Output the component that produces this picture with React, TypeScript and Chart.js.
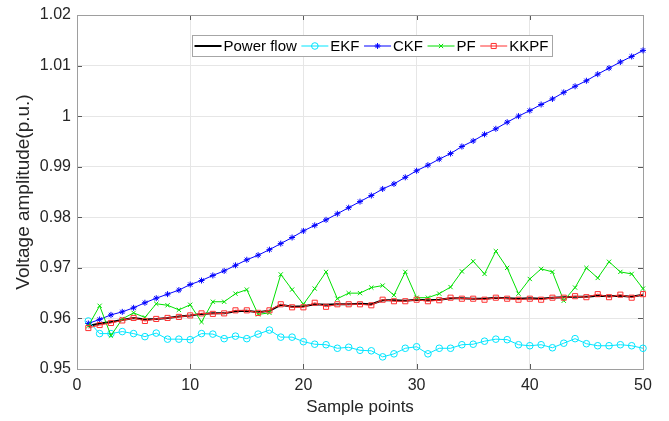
import { useEffect, useRef } from "react";
import { Chart, registerables } from "chart.js";
import { drawPoint } from "chart.js/helpers";

Chart.register(...registerables);

const samplePoints = [
  1, 2, 3, 4, 5, 6, 7, 8, 9, 10, 11, 12, 13, 14, 15, 16, 17, 18, 19, 20, 21, 22, 23, 24, 25,
  26, 27, 28, 29, 30, 31, 32, 33, 34, 35, 36, 37, 38, 39, 40, 41, 42, 43, 44, 45, 46, 47, 48, 49, 50,
];

const powerFlow = [
  0.9585, 0.959, 0.9593, 0.9597, 0.9601, 0.9598, 0.9599, 0.9601, 0.9604, 0.9606,
  0.9609, 0.961, 0.961, 0.9614, 0.9615, 0.9612, 0.9615, 0.9627, 0.9623, 0.9624,
  0.9628, 0.9627, 0.9628, 0.9628, 0.9629, 0.9628, 0.9636, 0.9636, 0.9635, 0.9637,
  0.9636, 0.9637, 0.964, 0.964, 0.9639, 0.9639, 0.9641, 0.964, 0.9639, 0.964,
  0.9639, 0.9641, 0.9642, 0.9643, 0.9643, 0.9645, 0.9644, 0.9645, 0.9643, 0.9647,
];

const ekf = [
  0.9595, 0.957, 0.957, 0.9574, 0.957, 0.9564, 0.9571, 0.9559, 0.9559, 0.9558,
  0.957, 0.9569, 0.956, 0.9565, 0.956, 0.9569, 0.9577, 0.9563, 0.9563, 0.9554,
  0.9549, 0.9548, 0.9541, 0.9543, 0.9537, 0.9536, 0.9524, 0.953, 0.9541, 0.9544,
  0.953, 0.9541, 0.9541, 0.9548, 0.9549, 0.9555, 0.9559, 0.9558, 0.9548, 0.9546,
  0.9548, 0.9542, 0.9551, 0.956, 0.955, 0.9546, 0.9546, 0.9548, 0.9546, 0.9541,
];

const ckf = [
  0.959, 0.9598, 0.9607, 0.9613, 0.9621, 0.9631, 0.964, 0.9648, 0.9656, 0.9667,
  0.9675, 0.9685, 0.9694, 0.9705, 0.9716, 0.9725, 0.9736, 0.9748, 0.976, 0.9773,
  0.9784, 0.9795, 0.9807, 0.9819, 0.9831, 0.9843, 0.9856, 0.9866, 0.9879, 0.9892,
  0.9903, 0.9915, 0.9926, 0.994, 0.9951, 0.9964, 0.9975, 0.9988, 1.0, 1.0011,
  1.0023, 1.0034, 1.0047, 1.0059, 1.007, 1.0083, 1.0095, 1.0107, 1.0118, 1.013,
];

const pf = [
  0.9585, 0.9625, 0.9566, 0.9599, 0.9611, 0.9602, 0.9629, 0.9626, 0.9617, 0.9627,
  0.9593, 0.9633, 0.9633, 0.9649, 0.9657, 0.9608, 0.9611, 0.9687, 0.9657, 0.9628,
  0.9659, 0.9692, 0.9639, 0.965, 0.965, 0.9661, 0.9665, 0.9646, 0.9692, 0.9641,
  0.9641, 0.9649, 0.9662, 0.9693, 0.9713, 0.9688, 0.9733, 0.97, 0.9649, 0.9678,
  0.9698, 0.9692, 0.9635, 0.9661, 0.97, 0.968, 0.9712, 0.9692, 0.9688, 0.9659,
];

const kkpf = [
  0.9581, 0.9587, 0.9591, 0.9596, 0.9601, 0.9595, 0.9599, 0.9601, 0.9603, 0.9606,
  0.961, 0.9609, 0.961, 0.9616, 0.9616, 0.9611, 0.9616, 0.9628, 0.9622, 0.9622,
  0.9631, 0.9623, 0.9628, 0.9628, 0.9628, 0.9626, 0.9637, 0.9634, 0.9634, 0.9637,
  0.9634, 0.9636, 0.9641, 0.9639, 0.9639, 0.9637, 0.9641, 0.9639, 0.9637, 0.9639,
  0.9637, 0.9641, 0.9641, 0.9644, 0.9642, 0.9648, 0.9642, 0.9647, 0.9641, 0.9648,
];

const xTicks = [0, 10, 20, 30, 40, 50];
const yTicks = [0.95, 0.96, 0.97, 0.98, 0.99, 1.0, 1.01, 1.02];

const seriesNames = ["Power flow", "EKF", "CKF", "PF", "KKPF"];
const xTitle = "Sample points";
const yTitle = "Voltage amplitude(p.u.)";

const FONT = "'Liberation Sans', Arial, Helvetica, sans-serif";
const TEXT = "#262626";

const toPoints = (ys: number[]) => ys.map((y, i) => ({ x: samplePoints[i], y }));

const boxPlugin = {
  id: "matlabBox",
  beforeDatasetsDraw(chart: any) {
    const { ctx, chartArea } = chart;
    const { left, right, top, bottom } = chartArea;
    const xs = chart.scales.x;
    const ys = chart.scales.y;
    ctx.save();
    ctx.lineWidth = 1;
    ctx.strokeStyle = "#5a5a5a";
    const tl = 5;
    ctx.beginPath();
    xTicks.forEach((v) => {
      const px = Math.round(xs.getPixelForValue(v)) + 0.5;
      ctx.moveTo(px, bottom);
      ctx.lineTo(px, bottom - tl);
      ctx.moveTo(px, top);
      ctx.lineTo(px, top + tl);
    });
    yTicks.forEach((v) => {
      const py = Math.round(ys.getPixelForValue(v)) + 0.5;
      ctx.moveTo(left, py);
      ctx.lineTo(left + tl, py);
      ctx.moveTo(right, py);
      ctx.lineTo(right - tl, py);
    });
    ctx.stroke();
    ctx.strokeStyle = "#9e9e9e";
    ctx.strokeRect(Math.round(left) + 0.5, Math.round(top) + 0.5, Math.round(right - left), Math.round(bottom - top));
    ctx.restore();
  },
};

const legendPlugin = {
  id: "matlabLegend",
  afterDatasetsDraw(chart: any) {
    const { ctx } = chart;
    const font = `15px ${FONT}`;
    ctx.save();
    ctx.font = font;
    const lineLen = 27;
    const gapBefore = 2;
    const gapAfter = 4.5;
    const widths = seriesNames.map((n) => ctx.measureText(n).width);
    const total = Math.round(2 + widths.reduce((a, w) => a + lineLen + gapBefore + w + gapAfter, 0));
    const cx = 371.5;
    const bx = Math.round(cx - total / 2) + 0.5;
    const by = 35.5;
    const bh = 21;
    ctx.fillStyle = "#ffffff";
    ctx.fillRect(bx, by, total, bh);
    ctx.strokeStyle = "#a6a6a6";
    ctx.lineWidth = 1;
    ctx.strokeRect(bx, by, total, bh);
    const cy = by + bh / 2;
    let x = bx + 2;
    chart.data.datasets.forEach((ds: any, i: number) => {
      ctx.strokeStyle = ds.borderColor;
      ctx.lineWidth = ds.borderWidth;
      ctx.beginPath();
      ctx.moveTo(x, cy);
      ctx.lineTo(x + lineLen, cy);
      ctx.stroke();
      if (ds.pointRadius > 0) {
        ctx.fillStyle = ds.pointBackgroundColor;
        ctx.strokeStyle = ds.borderColor;
        drawPoint(
          ctx,
          { pointStyle: ds.pointStyle, radius: ds.pointRadius, borderWidth: ds.pointBorderWidth, rotation: 0 },
          x + lineLen / 2,
          cy
        );
      }
      ctx.fillStyle = "#000000";
      ctx.textAlign = "left";
      ctx.textBaseline = "middle";
      ctx.fillText(seriesNames[i], x + lineLen + gapBefore, cy + 1);
      x += lineLen + gapBefore + widths[i] + gapAfter;
    });
    ctx.restore();
  },
};

export default function App() {
  const canvasRef = useRef<HTMLCanvasElement | null>(null);

  useEffect(() => {
    const canvas = canvasRef.current;
    if (!canvas) return;
    const mk = (
      label: string,
      data: number[],
      color: string,
      width: number,
      pointStyle: any,
      radius: number,
      fill: string,
      order: number
    ) => ({
      label,
      data: toPoints(data),
      borderColor: color,
      backgroundColor: fill,
      borderWidth: width,
      pointStyle,
      pointRadius: radius,
      pointBorderWidth: 1,
      pointBackgroundColor: fill,
      pointBorderColor: color,
      pointHoverRadius: radius,
      tension: 0,
      fill: false,
      clip: false as any,
      order,
    });

    const chart = new Chart(canvas, {
      type: "line",
      data: {
        datasets: [
          mk(seriesNames[0], powerFlow, "#000000", 2, "circle", 0, "rgba(0,0,0,0)", 5),
          mk(seriesNames[1], ekf, "#00e5ff", 1, "circle", 3.3, "rgba(0,0,0,0)", 4),
          mk(seriesNames[2], ckf, "#0000ff", 1, "star", 3, "#0000ff", 3),
          mk(seriesNames[3], pf, "#00e000", 1, "crossRot", 3, "rgba(0,0,0,0)", 2),
          mk(seriesNames[4], kkpf, "#ff3030", 1, "rect", 3.6, "rgba(0,0,0,0)", 1),
        ],
      },
      options: {
        animation: false,
        responsive: false,
        maintainAspectRatio: false,
        events: [],
        layout: { padding: { top: 15, right: 26, left: 0, bottom: 0 } },
        plugins: {
          legend: { display: false },
          tooltip: { enabled: false },
          title: { display: false },
        },
        scales: {
          x: {
            type: "linear",
            min: 0,
            max: 50,
            afterBuildTicks: (s: any) => {
              s.ticks = xTicks.map((v) => ({ value: v }));
            },
            afterFit: (s: any) => {
              s.height = 52;
              s.paddingLeft = 0;
              s.paddingRight = 0;
            },
            grid: { color: "#e6e6e6", drawTicks: false, lineWidth: 1 },
            border: { display: false },
            ticks: {
              padding: 7,
              maxRotation: 0,
              autoSkip: false,
              color: TEXT,
              font: { family: FONT, size: 16 },
              callback: (v: any) => String(v),
            },
            title: {
              display: true,
              text: xTitle,
              color: TEXT,
              font: { family: FONT, size: 17 },
              padding: { top: 0, bottom: 3 },
            },
          },
          y: {
            type: "linear",
            min: 0.95,
            max: 1.02,
            afterBuildTicks: (s: any) => {
              s.ticks = yTicks.map((v) => ({ value: v }));
            },
            afterFit: (s: any) => {
              s.width = 77;
              s.paddingTop = 0;
              s.paddingBottom = 0;
            },
            grid: { color: "#e6e6e6", drawTicks: false, lineWidth: 1 },
            border: { display: false },
            ticks: {
              padding: 6,
              autoSkip: false,
              color: TEXT,
              font: { family: FONT, size: 16 },
              callback: (v: any) => String(Math.round(Number(v) * 100) / 100),
            },
            title: {
              display: true,
              text: yTitle,
              color: TEXT,
              font: { family: FONT, size: 19 },
              padding: { top: 12, bottom: 0 },
            },
          },
        },
      },
      plugins: [boxPlugin, legendPlugin],
    });
    return () => chart.destroy();
  }, []);

  return (
    <div style={{ position: "fixed", left: 0, top: 0, width: 669, height: 421, background: "#ffffff" }}>
      <canvas ref={canvasRef} width={669} height={421} style={{ display: "block", width: 669, height: 421 }} />
    </div>
  );
}
